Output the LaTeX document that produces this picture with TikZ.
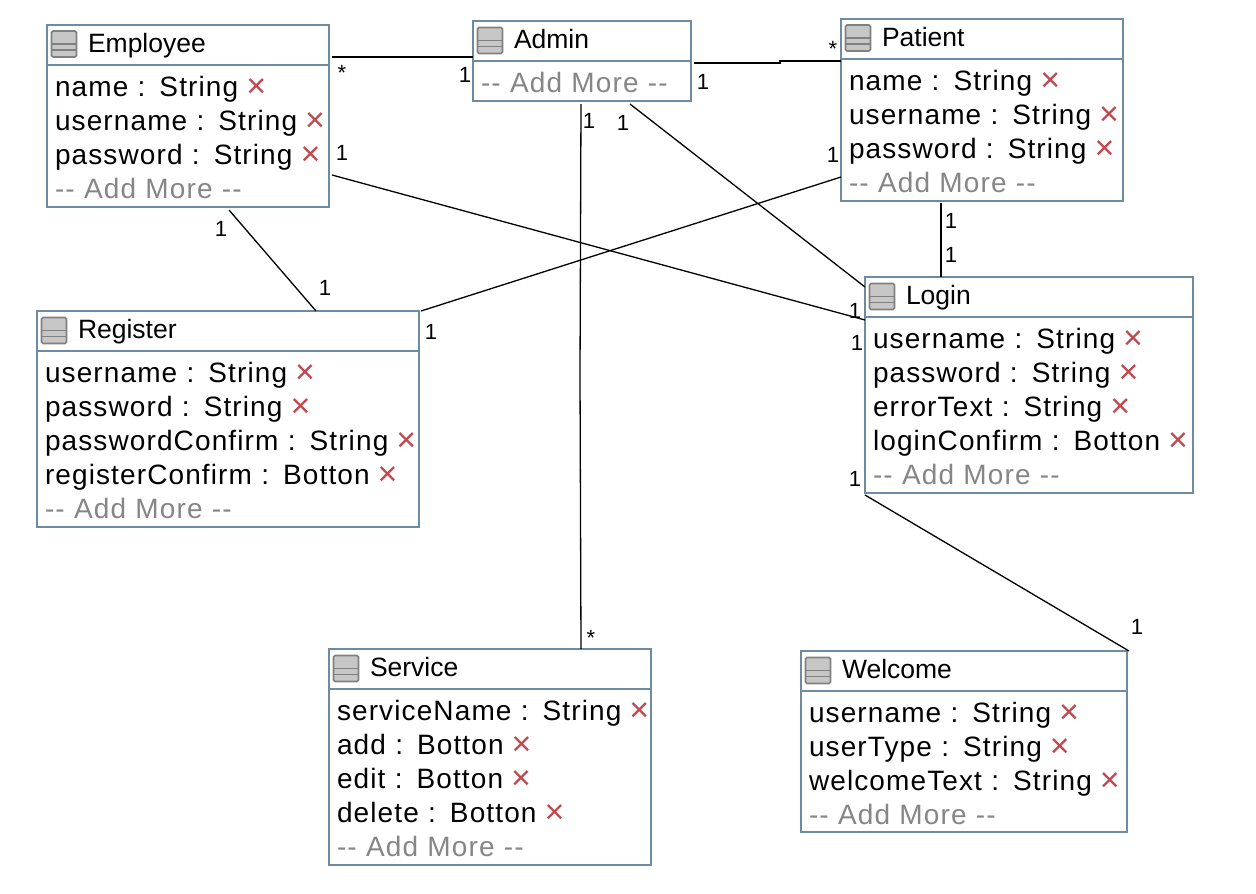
\documentclass[tikz,border=0pt]{standalone}
\usepackage{fontspec}
\setmainfont{Liberation Sans}
\newfontfamily\attrfont[LetterSpace=4,WordSpace=1.4,Ligatures=NoCommon]{Liberation Sans}
\usetikzlibrary{calc}

\definecolor{boxline}{HTML}{6D8BA3}
\definecolor{delred}{HTML}{C0484F}
\definecolor{addgray}{HTML}{868686}

\newcommand{\delx}{\nobreak\hspace{8pt}\nobreak\rlap{\raisebox{-1pt}{\textcolor{delred}{\fontsize{34}{34}\selectfont ×}}}}
\newcommand{\addmore}{\textcolor{addgray}{-{}- Add More -{}-}}

\tikzset{
  classhead/.style={draw=boxline, line width=2pt, fill=white, anchor=north west, align=left,
    inner xsep=41pt, inner ysep=0pt, minimum height=41pt, text height=20pt, text depth=6pt,
    font=\fontsize{26.5}{30}\selectfont},
  classbody/.style={draw=boxline, line width=2pt, fill=white, anchor=north west, align=left,
    inner xsep=8pt, inner ysep=0pt, text height=31pt,
    font=\attrfont\fontsize{28}{34}\selectfont},
  assoc/.style={line width=1.3pt, black},
  mult/.style={inner sep=0pt, font=\fontsize{22}{24}\selectfont},
  classicon/.pic={
    \draw[line width=1.6pt, draw=black!50, fill=black!22, rounded corners=1.5pt] (-12.5,-13) rectangle (12.5,13);
    \draw[line width=1.6pt, draw=black!50] (-12.5,0) -- (12.5,0) (-12.5,6) -- (12.5,6);
  }
}

\begin{document}
\begin{tikzpicture}[x=1pt,y=-1pt]
\useasboundingbox (1,1) rectangle (1257,895);

% associations go under the boxes
\node[classhead, text width=200pt, minimum height=40pt] (employee) at (47,25) {Employee};
\node[classbody, text width=266pt, text depth=111pt] (employeeattr) at (47,65)
  {name : String\delx\\username : String\delx\\password : String\delx\\\addmore};
\pic at ($(employee.west)+(18,-1)$) {classicon};

\node[classhead, text width=136pt] (admin) at (473,21) {Admin};
\node[classbody, text width=202pt, text depth=9pt] (adminattr) at (473,61) {\addmore};
\pic at ($(admin.west)+(18,-1)$) {classicon};

\node[classhead, text width=200pt, minimum height=40pt] (patient) at (841,19) {Patient};
\node[classbody, text width=266pt, text depth=111pt] (patientattr) at (841,59)
  {name : String\delx\\username : String\delx\\password : String\delx\\\addmore};
\pic at ($(patient.west)+(18,-1)$) {classicon};

\node[classhead, text width=246pt] (login) at (865,277) {Login};
\node[classbody, text width=312pt, text depth=145pt] (loginattr) at (865,317)
  {username : String\delx\\password : String\delx\\errorText : String\delx\\loginConfirm : Botton\delx\\\addmore};
\pic at ($(login.west)+(18,-1)$) {classicon};

\node[classhead, text width=300pt] (register) at (37,311) {Register};
\node[classbody, text width=366pt, text depth=145pt] (registerattr) at (37,351)
  {username : String\delx\\password : String\delx\\passwordConfirm : String\delx\\registerConfirm : Botton\delx\\\addmore};
\pic at ($(register.west)+(18,-1)$) {classicon};

\node[classhead, text width=240pt] (service) at (329,649) {Service};
\node[classbody, text width=306pt, text depth=145pt] (serviceattr) at (329,689)
  {serviceName : String\delx\\add : Botton\delx\\edit : Botton\delx\\delete : Botton\delx\\\addmore};
\pic at ($(service.west)+(18,-1)$) {classicon};

\node[classhead, text width=244pt] (welcome) at (801,651) {Welcome};
\node[classbody, text width=310pt, text depth=110pt] (welcomeattr) at (801,691)
  {username : String\delx\\userType : String\delx\\welcomeText : String\delx\\\addmore};
\pic at ($(welcome.west)+(18,-1)$) {classicon};

\draw[assoc] ($(employee.north east)+(2,33)$) -- ($(admin.north west)+(1,37)$);
\draw[assoc] ($(admin.north east)+(2,43)$) -- (781,64) -- (781,62) -- ($(patient.north west)+(1,43)$);
\draw[assoc] ($(adminattr.south west)+(109,2)$) -- (581,376) -- ($(service.north west)+(253,1)$);
\draw[assoc] ($(adminattr.south west)+(158,2)$) -- ($(login.north west)+(1,11)$);
\draw[assoc] ($(employeeattr.north east)+(2,111)$) -- ($(loginattr.north west)+(1,4)$);
\draw[assoc] ($(employeeattr.south west)+(183,2)$) -- ($(register.north west)+(280,1)$);
\draw[assoc] ($(patientattr.north west)+(1,119)$) -- ($(register.north east)+(1,1)$);
\draw[assoc] ($(patientattr.south west)+(101,1)$) -- ($(login.north west)+(77,1)$);
\draw[assoc] ($(loginattr.south west)+(1,1)$) -- ($(welcome.north east)+(1,1)$);

\node[mult] (m1) at (343,74) {*};
\node[mult] (m2) at (466,76) {1};
\node[mult] (m3) at (704,83) {1};
\node[mult] (m4) at (834,50) {*};
\node[mult] (m5) at (590,122) {1};
\node[mult] (m6) at (624,124) {1};
\node[mult] (m7) at (343,154) {1};
\node[mult] (m8) at (834,156) {1};
\node[mult] (m9) at (952,222) {1};
\node[mult] (m10) at (952,256) {1};
\node[mult] (m11) at (856,312) {1};
\node[mult] (m12) at (858,344) {1};
\node[mult] (m13) at (432,333) {1};
\node[mult] (m14) at (326,289) {1};
\node[mult] (m15) at (222,230) {1};
\node[mult] (m16) at (856,480) {1};
\node[mult] (m17) at (1138,628) {1};
\node[mult] (m18) at (592,639) {*};
\end{tikzpicture}
\end{document}
